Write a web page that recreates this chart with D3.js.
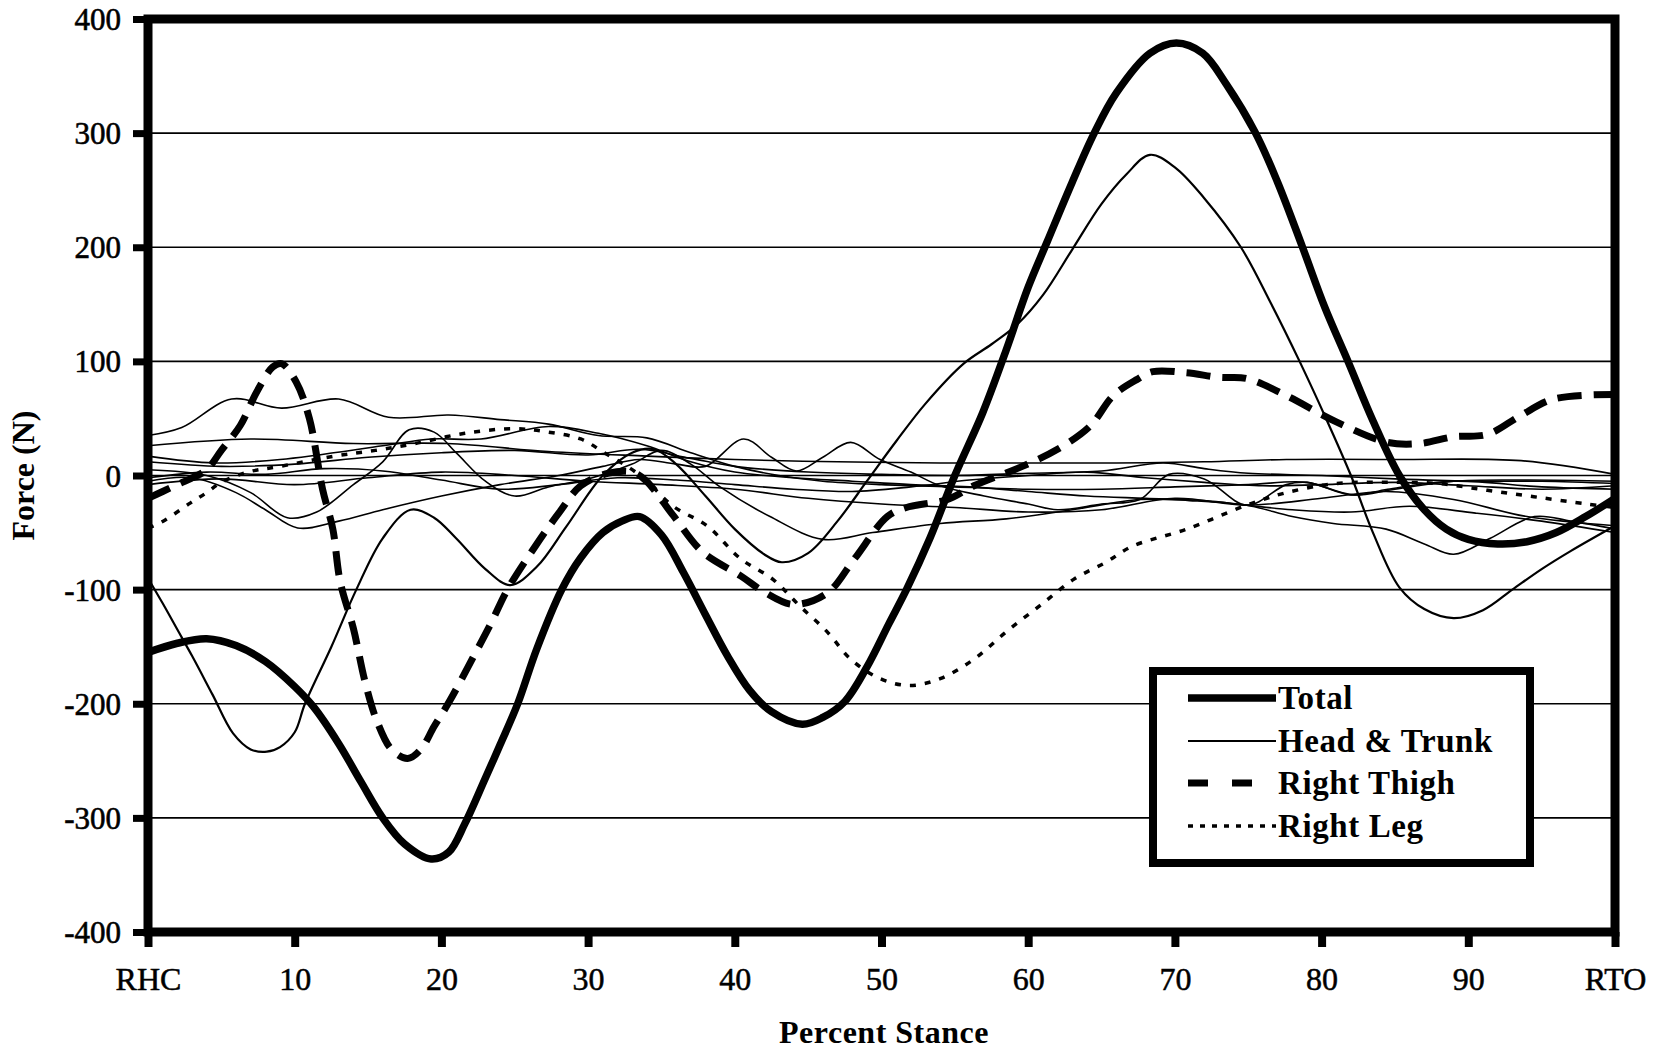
<!DOCTYPE html>
<html>
<head>
<meta charset="utf-8">
<script src="https://cdn.jsdelivr.net/npm/d3@7"></script>
<style>
  html, body { margin: 0; padding: 0; background: #fff; }
  svg { display: block; }
  text { font-family: "Liberation Serif", "Times New Roman", serif; fill: #000; }
</style>
</head>
<body>
<svg id="chart" width="1666" height="1049"></svg>
<script>
// Axis ticks and labels
const percentTicks = [0, 10, 20, 30, 40, 50, 60, 70, 80, 90, 100];
const percentLabels = ["RHC", "10", "20", "30", "40", "50", "60", "70", "80", "90", "RTO"];
const forceTicks = [-400, -300, -200, -100, 0, 100, 200, 300, 400];

// Segment force curves: [percent stance, force (N)]
const total = [[0,-155],[2,-147],[4,-143],[6,-149],[8,-163],[10,-185],[11.3,-203],[13,-235],[14.5,-268],[16,-300],[17.5,-323],[19.3,-336],[20.5,-330],[21.6,-305],[23,-265],[24,-236],[25.2,-200],[26.5,-152],[28.2,-100],[29.5,-72],[31,-50],[32.3,-40],[33.5,-36],[35,-52],[36.5,-85],[38,-122],[39.5,-158],[41,-188],[42.5,-207],[44.6,-218],[46,-212],[47.5,-198],[49,-168],[50.5,-130],[51.7,-100],[53.3,-55],[55,0],[56.9,55],[58.5,110],[60,165],[61.3,205],[63,257],[64.5,300],[66,335],[68.3,370],[70.1,379],[71.9,370],[73.5,343],[75.5,300],[77,257],[78.7,200],[80.2,148],[81.8,100],[83.5,48],[85.3,0],[87,-30],[88.5,-47],[90,-56],[92,-60],[94,-58],[96,-50],[98,-36],[100,-20]];

const headTrunk = [[0,-90],[1,-112],[2,-135],[3,-158],[4.4,-192],[5.8,-226],[7,-240],[8.1,-242],[9,-238],[10,-225],[10.7,-200],[12.5,-150],[14.2,-100],[16,-55],[17.9,-30],[19.5,-37],[21,-55],[23,-82],[24.7,-96],[26.5,-80],[28.5,-45],[31,0],[33,20],[34.5,23],[36,10],[38,-18],[40,-47],[42,-69],[43.2,-76],[45,-68],[47,-40],[49,-5],[51,30],[53,63],[55.6,98],[57.5,115],[59.3,133],[61,158],[63,198],[65,238],[66.7,264],[68.3,281],[70,270],[72,243],[74.5,200],[76.5,152],[78.5,100],[80.3,50],[82,0],[83.5,-50],[85.3,-98],[87,-117],[89,-125],[91,-118],[93,-100],[95,-82],[97,-66],[100,-44]];

const rightThigh = [[0,-20],[1,-14],[2,-8],[3,-2],[4,5],[5,22],[6.3,44],[7.4,73],[8.5,95],[9.1,98],[10.1,82],[11,50],[11.9,-12],[12.6,-47],[13.1,-93],[14,-134],[14.8,-181],[15.6,-215],[16.6,-240],[17.7,-248],[18.6,-240],[19.5,-220],[20.5,-199],[22.3,-156],[23.4,-129],[24.5,-100],[26.4,-62],[28,-33],[29.5,-9],[31.4,2],[33,3],[33.9,-4],[35.8,-35],[37.8,-67],[40.4,-88],[42,-102],[44,-113],[46.3,-103],[48.1,-74],[50.4,-36],[51.7,-28],[54.5,-21],[56.3,-9],[59.6,8],[62,23],[64.2,43],[65.8,70],[67.4,84],[68.5,91],[70.8,90],[73,86],[74.9,85],[77.6,70],[81,47],[84.5,29],[86.7,28],[89,34],[91.3,36],[93.5,52],[95.8,67],[100,71]];

const rightLeg = [[0,-46],[0.9,-41],[2.9,-24],[4,-15],[5,-6],[6.8,3],[9,8],[12.7,17],[15.5,22],[18.2,28],[21.6,37],[25,41],[27.3,38],[29.5,32],[31.1,20],[32.9,6],[34,-5],[35.8,-27],[38.1,-44],[40.4,-73],[42.6,-91],[44.4,-114],[46.3,-137],[47.9,-161],[49.9,-178],[51.9,-184],[54,-178],[56.3,-161],[58.5,-137],[60.8,-114],[63.1,-91],[65.3,-76],[67.1,-62],[70.8,-47],[74.9,-26],[77.6,-15],[81,-7],[84.5,-6],[87.9,-7],[91.3,-13],[94.7,-19],[98.1,-25],[100,-28]];

// Remaining body segments (thin solid lines, not in the key)
const segA = [[0,35],[2.3,42],[5.7,67],[9.1,59],[13,67],[16.4,51],[20.5,53],[24,49],[27.3,45],[30.7,35],[34,33],[37,20],[40,8],[43,0],[46,-5],[50,-8],[55,-10],[60,-12],[65,-12],[70,-10],[75,-8],[79,-6],[82,-17],[85,-12],[89,-5],[94,-4],[100,-5]];
const segB = [[0,26],[7,32],[14,28],[20.4,28],[27.3,21],[34,17],[40,14],[47,12],[54,11],[60,11],[66,11],[72,12],[77.6,14],[85,14],[93.6,13],[100,1]];
const segC = [[0,17],[4.5,11],[9,14],[16,26],[19.3,32],[22.7,32],[27.3,43],[30.7,37],[34,26],[37,12],[40,3],[44,-2],[48,-5],[52,-8],[56,-10],[60,-14],[64,-18],[68,-20],[72,-22],[74.9,-26],[78,-30],[82,-32],[86,-27],[90.5,-33],[95,-40],[100,-50]];
const segD = [[0,5],[4,0],[7,-15],[9.5,-37],[11.5,-32],[14,-8],[16,12],[17.8,40],[19.5,38],[21,20],[23,-5],[25,-18],[27.3,-10],[30,-3],[33,10],[35,22],[37,10],[39,-10],[42.4,-36],[46,-56],[49.4,-50],[54,-42],[58.5,-38],[63,-30],[67.6,-21],[71,-22],[74.9,-26],[78,-36],[80.8,-42],[84.4,-47],[87,-60],[89,-69],[91.5,-55],[94.5,-36],[97,-40],[100,-47]];
const segE = [[0,-5],[3,-2],[6,-15],[8,-30],[10.2,-46],[13,-40],[16,-30],[20,-18],[24,-8],[28,0],[31,8],[33.5,14],[36,10],[38,8],[40.6,32],[42.5,16],[44.2,4],[46,16],[47.9,29],[49.9,14],[52,3],[54,-9],[57,-18],[60,-25],[62,-30],[65,-25],[67.6,-21],[69.6,1],[72,-3],[74.9,-26],[77.6,-8],[79,-6],[82.2,-17],[84.5,-12],[89,-5],[95,-10],[100,-12]];
const segF = [[0,-8],[5,-3],[10,-8],[15,-2],[20,3],[25,0],[30,-5],[35,-8],[40,-12],[45,-20],[50,-25],[55,-28],[60,-32],[65,-30],[70,-20],[74.9,-26],[80,-20],[84.4,-14],[89,-21],[94,-36],[100,-44]];
const segG = [[0,12],[5,8],[10,10],[15,16],[20,20],[25,22],[30,18],[33.5,23],[37,15],[40,8],[45,3],[50,1],[55,0],[60,2],[65,4],[69.2,11],[72,6],[75,2],[80,0],[85,-3],[90,-5],[95,-5],[100,-7]];
const segH = [[0,-2],[4,3],[8,1],[12,6],[16,4],[20,-4],[24,-12],[28,-8],[32,-2],[36,-4],[40,-8],[44,-12],[48,-14],[52,-10],[56,-4],[60,0],[64,3],[68,-2],[72,-6],[76,-9],[80,-8],[85,-6],[90,-9],[95,-12],[100,-9]];

const otherSegments = [segA, segB, segC, segD, segE, segF, segG, segH];
const legendNames = ["Total", "Head & Trunk", "Right Thigh", "Right Leg"];

const svg = d3.select("#chart");
const plot = { left: 148, right: 1615, top: 19, bottom: 932 };

const x = d3.scaleLinear().domain([0, 100]).range([plot.left, plot.right]);
const y = d3.scaleLinear().domain([-400, 400]).range([plot.bottom, plot.top]);

const line = d3.line()
  .x(d => x(d[0]))
  .y(d => y(d[1]))
  .curve(d3.curveCatmullRom.alpha(0.5));

// Horizontal gridlines
svg.append("g").selectAll("line")
  .data(forceTicks)
  .join("line")
  .attr("x1", plot.left).attr("x2", plot.right)
  .attr("y1", d => y(d)).attr("y2", d => y(d))
  .attr("stroke", "#000").attr("stroke-width", 1.6);

// Thin lines for the other segments
svg.append("g").selectAll("path")
  .data(otherSegments)
  .join("path")
  .attr("d", line)
  .attr("fill", "none").attr("stroke", "#000").attr("stroke-width", 1.6);

const styles = [
  { data: total, width: 7.5, dash: null },
  { data: headTrunk, width: 2.2, dash: null },
  { data: rightThigh, width: 7, dash: "24,12" },
  { data: rightLeg, width: 3.5, dash: "6,9" }
];

// Draw order: leg, thigh, head & trunk, total
[3, 2, 1, 0].forEach(i => {
  const s = styles[i];
  svg.append("path")
    .datum(s.data)
    .attr("d", line)
    .attr("fill", "none")
    .attr("stroke", "#000")
    .attr("stroke-width", s.width)
    .attr("stroke-linejoin", "round")
    .attr("stroke-dasharray", s.dash);
});

// Axes
const yAxis = d3.axisLeft(y).tickValues(forceTicks).tickSize(15).tickPadding(12).tickFormat(d => String(d));
const gy = svg.append("g").attr("transform", `translate(${plot.left},0)`).call(yAxis);
gy.select(".domain").remove();
gy.selectAll(".tick line").attr("stroke", "#000").attr("stroke-width", 7);
gy.selectAll(".tick text").attr("font-size", 31).attr("font-family", "Liberation Serif")
  .attr("dy", "0.34em").attr("stroke", "#000").attr("stroke-width", 0.6);

const xAxis = d3.axisBottom(x).tickValues(percentTicks).tickSize(15).tickPadding(20).tickFormat((d, i) => percentLabels[i]);
const gx = svg.append("g").attr("transform", `translate(0,${plot.bottom})`).call(xAxis);
gx.select(".domain").remove();
gx.selectAll(".tick line").attr("stroke", "#000").attr("stroke-width", 8);
gx.selectAll(".tick text").attr("font-size", 32).attr("font-family", "Liberation Serif")
  .attr("stroke", "#000").attr("stroke-width", 0.5);

// Plot frame
svg.append("rect")
  .attr("x", plot.left).attr("y", plot.top)
  .attr("width", plot.right - plot.left).attr("height", plot.bottom - plot.top)
  .attr("fill", "none").attr("stroke", "#000").attr("stroke-width", 9);

// Axis titles
svg.append("text")
  .attr("x", 884).attr("y", 1043)
  .attr("text-anchor", "middle").attr("font-size", 32).attr("font-weight", "bold")
  .attr("letter-spacing", 0.5)
  .text("Percent Stance");

svg.append("text")
  .attr("transform", `translate(34,${y(0)}) rotate(-90)`)
  .attr("text-anchor", "middle").attr("font-size", 32).attr("font-weight", "bold")
  .text("Force (N)");

// Key
const key = svg.append("g");
key.append("rect")
  .attr("x", 1153).attr("y", 671).attr("width", 377).attr("height", 192)
  .attr("fill", "#fff").attr("stroke", "#000").attr("stroke-width", 8);

const rowY = [698, 741, 783, 826];
legendNames.forEach((name, i) => {
  const s = styles[i];
  key.append("line")
    .attr("x1", 1188).attr("x2", 1276)
    .attr("y1", rowY[i]).attr("y2", rowY[i])
    .attr("stroke", "#000").attr("stroke-width", s.width)
    .attr("stroke-dasharray", i === 2 ? "20,24" : (i === 3 ? "5,7" : null));
  key.append("text")
    .attr("x", 1278).attr("y", rowY[i] + 11)
    .attr("font-size", 33).attr("font-weight", "bold")
    .attr("letter-spacing", 0.6)
    .text(name);
});
</script>
</body>
</html>
